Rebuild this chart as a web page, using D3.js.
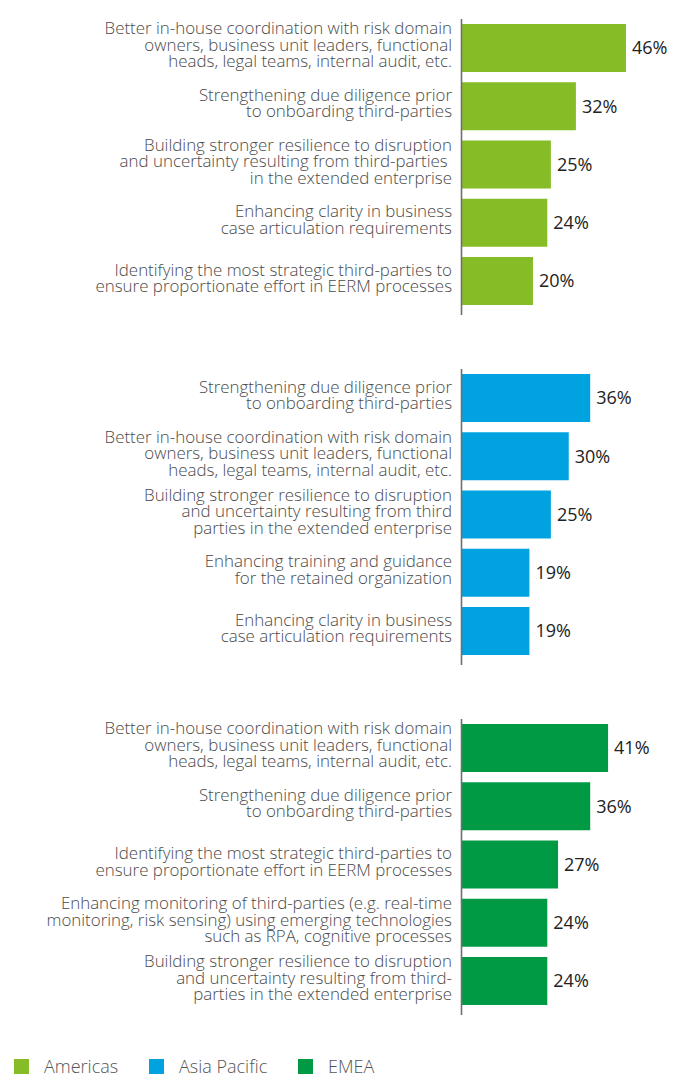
<!DOCTYPE html>
<html><head><meta charset="utf-8">
<script src="https://cdn.jsdelivr.net/npm/d3@7"></script>
<style>body{margin:0;background:#fff}svg{display:block}</style>
</head><body><svg id="c" width="679" height="1080"></svg>
<script>
const regions = ["Americas", "Asia Pacific", "EMEA"];
const regionColors = ["#86BC25", "#00A3E0", "#009A44"];

const americasLabels = [
  "Better in-house coordination with risk domain|owners, business unit leaders, functional|heads, legal teams, internal audit, etc.",
  "Strengthening due diligence prior|to onboarding third-parties",
  "Building stronger resilience to disruption|and uncertainty resulting from third-parties |in the extended enterprise",
  "Enhancing clarity in business|case articulation requirements",
  "Identifying the most strategic third-parties to|ensure proportionate effort in EERM processes"
];
const americasValues = [46, 32, 25, 24, 20];

const apacLabels = [
  "Strengthening due diligence prior|to onboarding third-parties",
  "Better in-house coordination with risk domain|owners, business unit leaders, functional|heads, legal teams, internal audit, etc.",
  "Building stronger resilience to disruption|and uncertainty resulting from third|parties in the extended enterprise",
  "Enhancing training and guidance|for the retained organization",
  "Enhancing clarity in business|case articulation requirements"
];
const apacValues = [36, 30, 25, 19, 19];

const emeaLabels = [
  "Better in-house coordination with risk domain|owners, business unit leaders, functional|heads, legal teams, internal audit, etc.",
  "Strengthening due diligence prior|to onboarding third-parties",
  "Identifying the most strategic third-parties to|ensure proportionate effort in EERM processes",
  "Enhancing monitoring of third-parties (e.g. real-time|monitoring, risk sensing) using emerging technologies|such as RPA, cognitive processes",
  "Building stronger resilience to disruption|and uncertainty resulting from third-|parties in the extended enterprise"
];
const emeaValues = [41, 36, 27, 24, 24];

const panels = [
  {labels: americasLabels, values: americasValues},
  {labels: apacLabels, values: apacValues},
  {labels: emeaLabels, values: emeaValues}
];

const svg = d3.select("#c");
const axisX = 461.5;
const x = d3.scaleLinear().domain([0, 100]).range([axisX, axisX + 357.5]);
const font = "'Open Sans', sans-serif";

panels.forEach((p, i) => {
  const top = 24 + i * 350;
  const y = d3.scaleBand().domain(d3.range(p.values.length))
    .range([top, top + 281]).paddingInner(0.176).paddingOuter(0);
  const g = svg.append("g");
  g.selectAll("rect").data(p.values).join("rect")
    .attr("x", x(0)).attr("y", (d, j) => y(j))
    .attr("width", d => x(d) - x(0)).attr("height", y.bandwidth())
    .attr("fill", regionColors[i]);
  g.append("line")
    .attr("x1", axisX).attr("x2", axisX)
    .attr("y1", top - 5).attr("y2", top + 291)
    .attr("stroke", "#6f6f6f").attr("stroke-width", 1.6);
  g.selectAll("text.val").data(p.values).join("text").attr("class", "val")
    .attr("x", d => x(d) + 6).attr("y", (d, j) => y(j) + y.bandwidth() / 2)
    .attr("dy", "0.35em")
    .attr("font-family", font).attr("font-size", 18).attr("fill", "#222")
    .text(d => d + "%");
  p.labels.forEach((lab, j) => {
    const lines = lab.split("|");
    const lh = 16.5;
    const cy = y(j) + y.bandwidth() / 2 - 3 - (lines.length - 1) * lh / 2;
    const t = g.append("text")
      .attr("text-anchor", "end")
      .attr("font-family", font).attr("font-size", 16.9).attr("font-weight", 300).attr("fill", "#4a4a4a");
    lines.forEach((ln, k) => {
      t.append("tspan").attr("x", 452).attr("y", cy + k * lh).attr("dy", "0.35em").text(ln);
    });
  });
});

const legendX = [14, 149, 298];
const lg = svg.append("g");
regions.forEach((r, i) => {
  lg.append("rect").attr("x", legendX[i]).attr("y", 1059).attr("width", 15).attr("height", 15)
    .attr("fill", regionColors[i]);
  lg.append("text").attr("x", legendX[i] + 30).attr("y", 1066.5).attr("dy", "0.35em")
    .attr("font-family", font).attr("font-size", 18).attr("font-weight", 300).attr("fill", "#555").text(r);
});
</script></body></html>
